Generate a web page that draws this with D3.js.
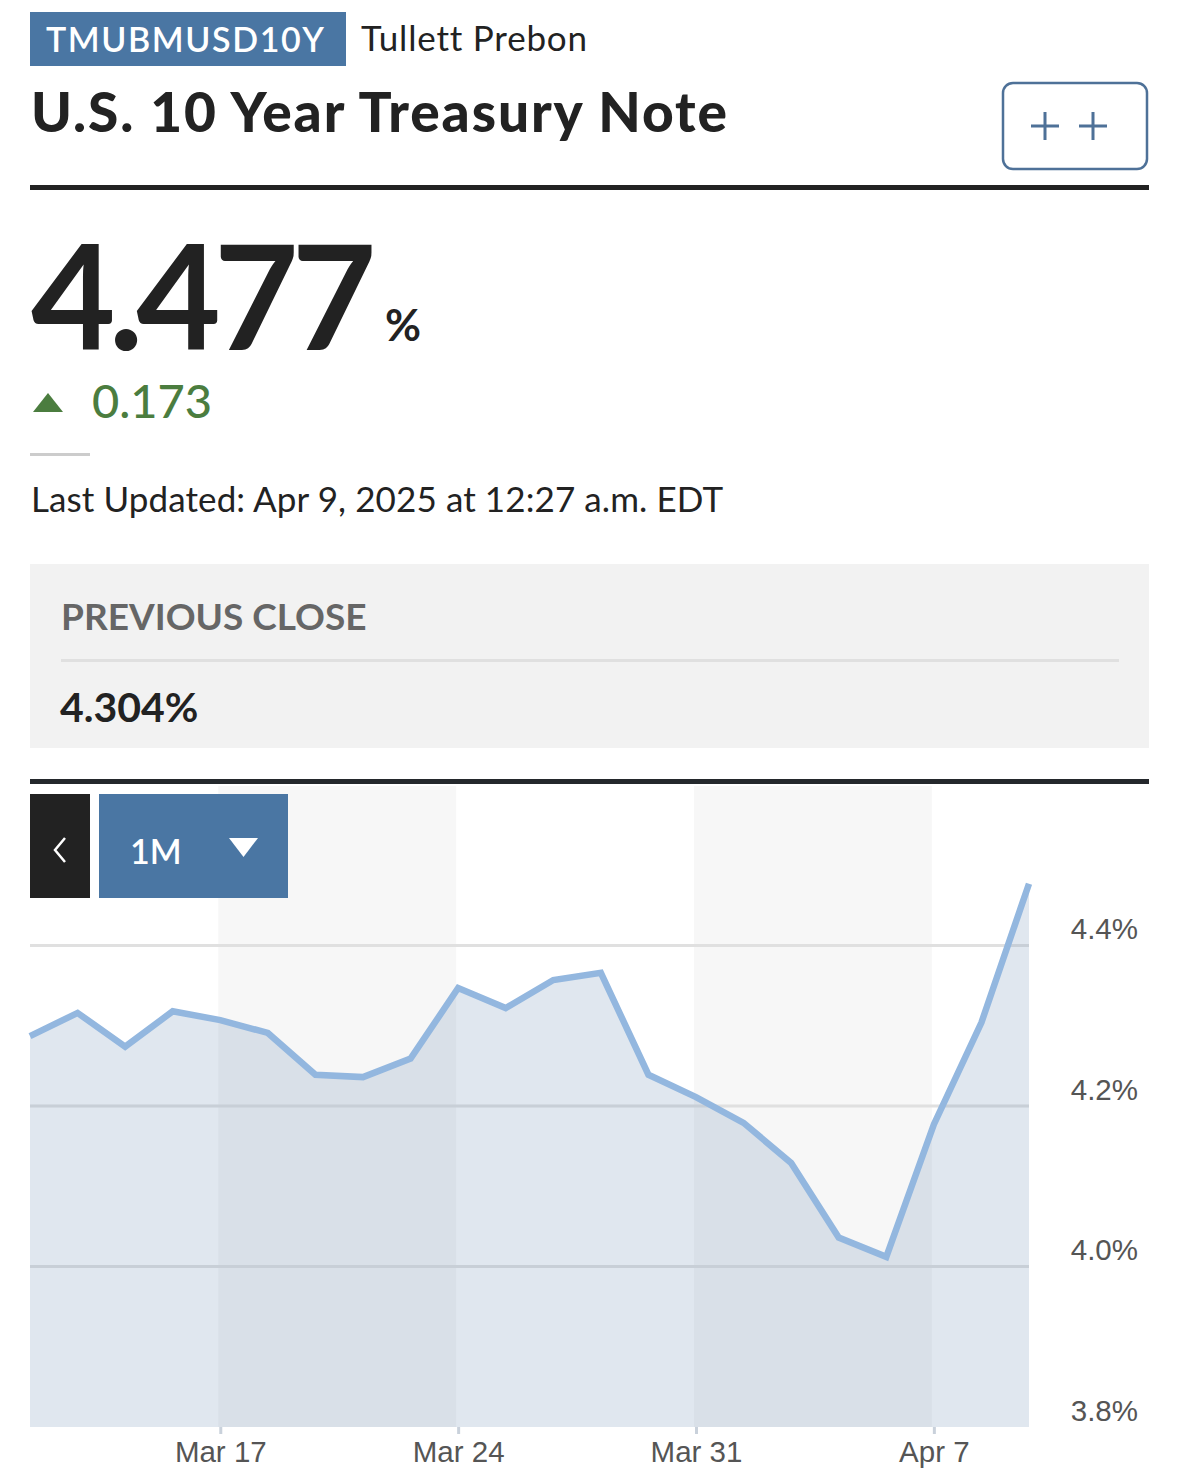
<!DOCTYPE html>
<meta charset="utf-8">
<style>
body { margin: 0; background: #fff; }
svg { display: block; font-family: Lato, "Open Sans", sans-serif; }
.axis text { font-family: "Liberation Sans", Arial, sans-serif; font-size: 29.5px; fill: #555; }
</style>
<body>
<script src="https://d3js.org/d3.v7.min.js"></script>
<script>
// trading days shown on the 1M chart
var days = ["Mar 11", "Mar 12", "Mar 13", "Mar 14", "Mar 17", "Mar 18", "Mar 19", "Mar 20", "Mar 21",
            "Mar 24", "Mar 25", "Mar 26", "Mar 27", "Mar 28", "Mar 31", "Apr 1", "Apr 2", "Apr 3", "Apr 4",
            "Apr 7", "Apr 8", "Apr 9"];
var yields = [4.287, 4.316, 4.274, 4.318, 4.307, 4.291, 4.239, 4.236, 4.259,
              4.347, 4.322, 4.357, 4.366, 4.239, 4.211, 4.179, 4.129, 4.036, 4.012,
              4.177, 4.304, 4.477];
var tickDays = ["Mar 17", "Mar 24", "Mar 31", "Apr 7"];
var yTicks = [3.8, 4.0, 4.2, 4.4];
var shadedWeeks = [["Mar 17", "Mar 24"], ["Mar 31", "Apr 7"]];

var svg = d3.select("body").append("svg")
    .attr("width", 1179)
    .attr("height", 1476);

//////////// header ////////////
svg.append("rect").attr("x", 30).attr("y", 12).attr("width", 316).attr("height", 54).attr("fill", "#4a76a3");
svg.append("text").attr("x", 46).attr("y", 52).attr("fill", "#fff")
    .style("font-size", "34px").style("font-weight", 600).style("letter-spacing", "1.6px").text("TMUBMUSD10Y");
svg.append("text").attr("x", 361).attr("y", 51).attr("fill", "#222")
    .style("font-size", "35px").style("letter-spacing", "0.8px").text("Tullett Prebon");
svg.append("text").attr("x", 31).attr("y", 132).attr("fill", "#222")
    .style("font-size", "55px").style("font-weight", 900).style("letter-spacing", "1.9px")
    .text("U.S. 10 Year Treasury Note");

// the ++ compare button
svg.append("rect").attr("x", 1003).attr("y", 83).attr("width", 144).attr("height", 86).attr("rx", 10)
    .attr("fill", "#fff").attr("stroke", "#4e7198").attr("stroke-width", 2.5);
[1045, 1093].forEach(function (cx) {
  svg.append("path").attr("d", "M" + (cx - 14) + ",126H" + (cx + 14) + "M" + cx + ",112V140")
      .attr("stroke", "#4e7198").attr("stroke-width", 3);
});

svg.append("rect").attr("x", 30).attr("y", 185).attr("width", 1119).attr("height", 5).attr("fill", "#222");

//////////// quote ////////////
svg.append("text").attr("x", 31).attr("y", 350).attr("fill", "#222")
    .style("font-size", "146px").style("font-weight", 700).style("letter-spacing", "-7px").text("4.477");
svg.append("text").attr("x", 385).attr("y", 341).attr("fill", "#222")
    .style("font-size", "44px").style("font-weight", 700).text("%");

svg.append("path").attr("d", "M33,412L48,393L63,412Z").attr("fill", "#4b7d3f");
svg.append("text").attr("x", 92).attr("y", 418).attr("fill", "#4b7d3f")
    .style("font-size", "47px").style("font-weight", 500).text("0.173");

svg.append("rect").attr("x", 30).attr("y", 453).attr("width", 60).attr("height", 3).attr("fill", "#ccc");
svg.append("text").attr("x", 31).attr("y", 512).attr("fill", "#222")
    .style("font-size", "35px").style("letter-spacing", "0.1px").text("Last Updated: Apr 9, 2025 at 12:27 a.m. EDT");

//////////// previous close box ////////////
svg.append("rect").attr("x", 30).attr("y", 564).attr("width", 1119).attr("height", 184).attr("fill", "#f2f2f2");
svg.append("text").attr("x", 61).attr("y", 630).attr("fill", "#666")
    .style("font-size", "37px").style("font-weight", 700).text("PREVIOUS CLOSE");
svg.append("rect").attr("x", 61).attr("y", 659).attr("width", 1058).attr("height", 3).attr("fill", "#e0e0e0");
svg.append("text").attr("x", 60).attr("y", 722).attr("fill", "#222")
    .style("font-size", "41px").style("font-weight", 700).text("4.304%");

svg.append("rect").attr("x", 30).attr("y", 779).attr("width", 1119).attr("height", 5).attr("fill", "#24282c");

//////////// chart ////////////
var x = d3.scalePoint().domain(days).range([30, 1029]);
var y = d3.scaleLinear().domain([3.8, 4.6]).range([1427, 785]);

var chart = svg.append("g");

chart.selectAll(".band").data(shadedWeeks).enter().append("rect")
    .attr("class", "band")
    .attr("x", function (d) { return x(d[0]) - 2; })
    .attr("width", function (d) { return x(d[1]) - x(d[0]); })
    .attr("y", 786).attr("height", 1427 - 786)
    .attr("fill", "#f7f7f7");

chart.selectAll(".grid").data(yTicks.slice(1)).enter().append("line")
    .attr("class", "grid")
    .attr("x1", 30).attr("x2", 1029)
    .attr("y1", function (d) { return y(d); }).attr("y2", function (d) { return y(d); })
    .attr("stroke", "#e0e0e0").attr("stroke-width", 3);

var pts = days.map(function (d, i) { return [d, yields[i]]; });

chart.append("path").datum(pts)
    .attr("fill", "rgba(112,146,184,0.22)")
    .attr("d", d3.area().x(function (d) { return x(d[0]); }).y0(y(3.8)).y1(function (d) { return y(d[1]); }));

chart.append("path").datum(pts)
    .attr("fill", "none").attr("stroke", "#93b7df").attr("stroke-width", 6.5)
    .attr("stroke-linejoin", "miter")
    .attr("d", d3.line().x(function (d) { return x(d[0]); }).y(function (d) { return y(d[1]); }));

// x axis
var xAxis = svg.append("g").attr("class", "axis").attr("transform", "translate(0,1427)")
    .call(d3.axisBottom(x).tickValues(tickDays).tickSize(7).tickPadding(7));
xAxis.select(".domain").remove();
xAxis.selectAll("line").attr("stroke", "#c9d1db").attr("stroke-width", 3);
xAxis.selectAll("text").attr("fill", "#555");

// y axis labels on the right
var yAxis = svg.append("g").attr("class", "axis").attr("transform", "translate(1138,0)")
    .call(d3.axisRight(y).tickValues(yTicks).tickSize(0).tickPadding(0)
      .tickFormat(function (d) { return d3.format(".1f")(d) + "%"; }));
yAxis.select(".domain").remove();
yAxis.selectAll("text").attr("text-anchor", "end").attr("dy", "-7").attr("fill", "#555");

//////////// range controls ////////////
svg.append("rect").attr("x", 30).attr("y", 794).attr("width", 60).attr("height", 104).attr("fill", "#222");
svg.append("path").attr("d", "M65,838L55,850L65,862").attr("fill", "none")
    .attr("stroke", "#fff").attr("stroke-width", 2.5);
svg.append("rect").attr("x", 99).attr("y", 794).attr("width", 189).attr("height", 104).attr("fill", "#4a76a3");
svg.append("text").attr("x", 130).attr("y", 864).attr("fill", "#fff")
    .style("font-size", "34px").style("font-weight", 600).text("1M");
svg.append("path").attr("d", "M229,838H258L243.5,857Z").attr("fill", "#fff");
</script>
</body>
